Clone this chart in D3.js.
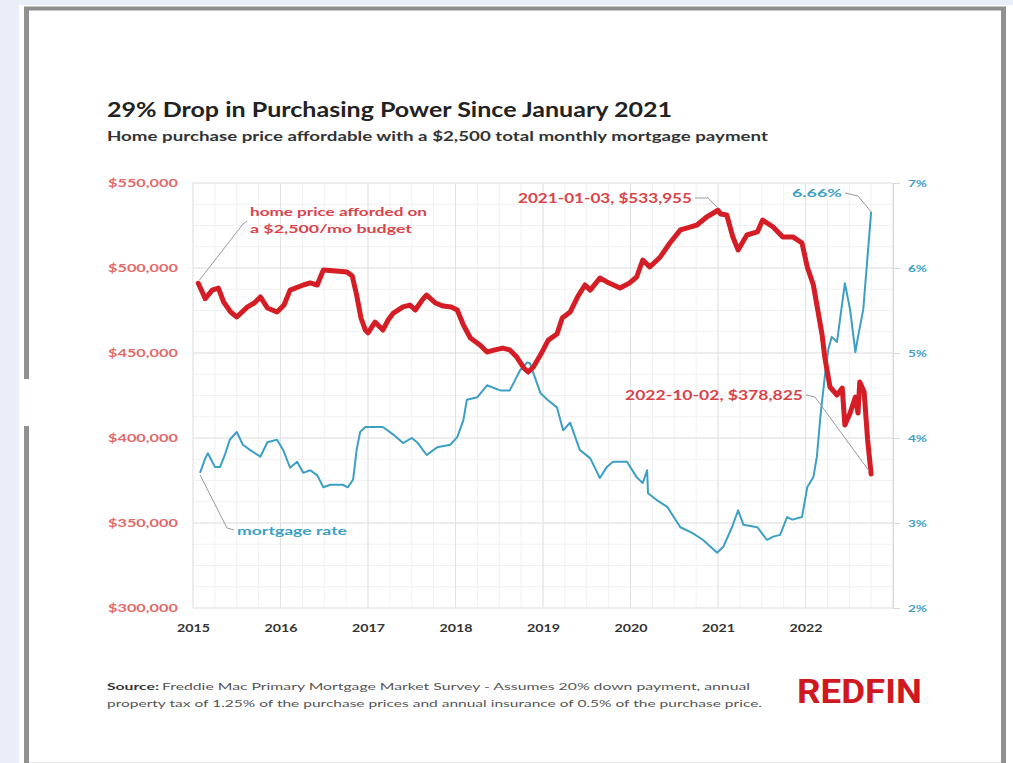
<!DOCTYPE html>
<html>
<head>
<meta charset="utf-8">
<script src="https://cdn.jsdelivr.net/npm/d3@7"></script>
<style>
  html, body { margin: 0; padding: 0; background: #e9eef8; }
  svg { display: block; }
</style>
</head>
<body>
<svg id="chart" width="1013" height="763"></svg>
<script>
// ---------- DATA ----------
const yearTicks = [2015, 2016, 2017, 2018, 2019, 2020, 2021, 2022];
const priceTicks = [300000, 350000, 400000, 450000, 500000, 550000];
const rateTicks = [2, 3, 4, 5, 6, 7];

// home price afforded on a $2,500/mo budget (decimal year, $)
const priceYears = [2015.06,2015.14,2015.22,2015.29,2015.35,2015.43,2015.50,2015.62,2015.70,2015.77,2015.85,2015.96,
  2016.04,2016.11,2016.26,2016.34,2016.42,2016.49,2016.63,2016.76,2016.82,2016.87,2016.92,2016.97,
  2017.00,2017.08,2017.17,2017.23,2017.29,2017.40,2017.48,2017.54,2017.62,2017.67,2017.77,2017.86,2017.95,
  2018.02,2018.09,2018.17,2018.28,2018.36,2018.45,2018.54,2018.62,2018.70,2018.78,2018.83,2018.89,2018.97,
  2019.06,2019.16,2019.22,2019.31,2019.40,2019.48,2019.54,2019.65,2019.73,2019.88,2019.99,
  2020.07,2020.14,2020.22,2020.34,2020.45,2020.57,2020.68,2020.76,2020.87,2021.00,
  2021.03,2021.10,2021.17,2021.23,2021.33,2021.45,2021.51,2021.63,2021.74,2021.86,2021.96,
  2022.02,2022.09,2022.14,2022.19,2022.22,2022.28,2022.36,2022.42,2022.45,2022.51,2022.57,2022.60,2022.62,2022.67,2022.71,2022.75];
const priceValues = [491000,482000,487000,488200,480000,474100,471200,477000,479400,483000,476500,474100,
  478200,487000,490000,491200,490000,498800,498200,497600,495300,484100,470600,463500,
  461800,468200,463500,469400,473500,477100,478200,475300,481200,484100,479400,477600,477100,
  475300,466500,458800,454700,450600,451800,452900,451800,447600,441200,438800,441800,448800,
  457600,461200,470600,474100,483500,490000,487000,494100,491800,488200,491200,
  494700,504700,500600,506500,514700,522400,524100,525300,530000,533955,
  531800,531200,518200,510600,519400,521200,528200,524100,518200,518200,514700,
  500600,490000,475300,460600,447600,430000,425300,429400,407600,414700,424100,414700,432900,427100,398800,378825];

// 30-year mortgage rate (decimal year, %)
const rateYears = [2015.08,2015.14,2015.17,2015.25,2015.31,2015.37,2015.42,2015.50,2015.57,2015.65,2015.77,2015.85,2015.96,
  2016.03,2016.11,2016.19,2016.26,2016.34,2016.42,2016.49,2016.57,2016.71,2016.77,2016.83,2016.87,2016.91,2016.97,
  2017.17,2017.29,2017.40,2017.50,2017.57,2017.67,2017.79,2017.94,
  2018.02,2018.09,2018.13,2018.25,2018.36,2018.51,2018.62,2018.74,2018.82,2018.85,2018.97,
  2019.05,2019.16,2019.23,2019.31,2019.42,2019.54,2019.65,2019.73,2019.80,2019.96,
  2020.07,2020.14,2020.19,2020.20,2020.30,2020.42,2020.57,2020.71,2020.83,2020.99,
  2021.06,2021.16,2021.23,2021.29,2021.45,2021.56,2021.63,2021.71,2021.79,2021.85,2021.96,
  2022.02,2022.09,2022.13,2022.17,2022.22,2022.26,2022.30,2022.36,2022.45,2022.51,2022.57,2022.60,2022.66,2022.75];
const rateValues = [3.59,3.76,3.82,3.66,3.66,3.82,3.98,4.07,3.92,3.86,3.78,3.95,3.98,
  3.86,3.65,3.72,3.59,3.62,3.56,3.42,3.45,3.45,3.42,3.51,3.86,4.07,4.13,
  4.13,4.04,3.94,4.00,3.94,3.80,3.89,3.92,
  4.01,4.21,4.45,4.48,4.62,4.56,4.56,4.80,4.89,4.88,4.53,
  4.45,4.36,4.09,4.18,3.86,3.76,3.53,3.66,3.72,3.72,
  3.54,3.47,3.62,3.35,3.27,3.19,2.95,2.88,2.80,2.65,
  2.72,2.95,3.15,2.98,2.95,2.80,2.84,2.86,3.07,3.04,3.07,
  3.42,3.54,3.78,4.25,4.72,5.04,5.19,5.13,5.82,5.51,5.01,5.19,5.51,6.66];

// ---------- DRAWING ----------
const svg = d3.select("#chart");
const RED = "#d41d24", TEAL = "#3d9fc4", RED_TXT = "#d9434a", RED_TICK = "#e06a6a";

// page background & frame
svg.append("rect").attr("x", 19).attr("y", 5).attr("width", 994).attr("height", 758).attr("fill", "#fff");
const frame = svg.append("g").attr("stroke", "#909090").attr("fill", "none");
frame.append("line").attr("x1", 24).attr("x2", 1006).attr("y1", 8.5).attr("y2", 8.5).attr("stroke-width", 4);
frame.append("line").attr("x1", 1003.5).attr("x2", 1003.5).attr("y1", 7).attr("y2", 763).attr("stroke-width", 5);
frame.append("line").attr("x1", 26.5).attr("x2", 26.5).attr("y1", 7).attr("y2", 379).attr("stroke-width", 5);
frame.append("line").attr("x1", 26.5).attr("x2", 26.5).attr("y1", 426).attr("y2", 763).attr("stroke-width", 5);
svg.append("line").attr("x1", 29).attr("x2", 1001).attr("y1", 762.5).attr("y2", 762.5).attr("stroke", "#e4e4e4");

const x = d3.scaleLinear().domain([2015, 2023]).range([193, 893]);
const yL = d3.scaleLinear().domain([300000, 550000]).range([608, 183]);
const yR = d3.scaleLinear().domain([2, 7]).range([608, 183]);

// grid: minor + major
const grid = svg.append("g");
const minorX = d3.range(2015, 2023.01, 0.25), minorY = d3.range(300000, 550001, 12500);
grid.selectAll(".mx").data(minorX).join("line")
  .attr("x1", d => x(d)).attr("x2", d => x(d)).attr("y1", yL(550000)).attr("y2", yL(300000))
  .attr("stroke", "#f1f1f1");
grid.selectAll(".my").data(minorY).join("line")
  .attr("x1", x(2015)).attr("x2", x(2023)).attr("y1", d => yL(d)).attr("y2", d => yL(d))
  .attr("stroke", "#f1f1f1");
grid.selectAll(".Mx").data(yearTicks.concat([2023])).join("line")
  .attr("x1", d => x(d)).attr("x2", d => x(d)).attr("y1", yL(550000)).attr("y2", yL(300000))
  .attr("stroke", "#e2e2e2");
grid.selectAll(".My").data(priceTicks).join("line")
  .attr("x1", x(2015)).attr("x2", x(2023)).attr("y1", d => yL(d)).attr("y2", d => yL(d))
  .attr("stroke", "#e2e2e2");

// axes
const fmtPrice = d => "$" + d3.format(",")(d);
const gL = svg.append("g").attr("transform", "translate(178,0)")
  .call(d3.axisLeft(yL).tickValues(priceTicks).tickFormat(fmtPrice).tickSize(0).tickPadding(0));
gL.select(".domain").remove();
gL.selectAll("text").attr("fill", RED_TICK).attr("font-family", "Lato, sans-serif")
  .attr("font-weight", "bold").attr("font-size", 11).attr("textLength", 70).attr("lengthAdjust", "spacingAndGlyphs");

const gR = svg.append("g").attr("transform", "translate(893,0)")
  .call(d3.axisRight(yR).tickValues(rateTicks).tickFormat(d => d + "%").tickSize(7).tickPadding(8));
gR.select(".domain").attr("stroke", "#dcdcdc");
gR.selectAll("line").attr("stroke", "#d8d8d8");
gR.selectAll("text").attr("fill", TEAL).attr("font-family", "Lato, sans-serif")
  .attr("font-weight", "bold").attr("font-size", 10).attr("textLength", 19).attr("lengthAdjust", "spacingAndGlyphs");

const gB = svg.append("g").attr("transform", "translate(0,608)")
  .call(d3.axisBottom(x).tickValues(yearTicks).tickFormat(d3.format("d")).tickSize(0).tickPadding(16));
gB.select(".domain").remove();
gB.selectAll("text").attr("fill", "#333").attr("font-family", "Lato, sans-serif")
  .attr("font-weight", "bold").attr("font-size", 11).attr("textLength", 33).attr("lengthAdjust", "spacingAndGlyphs");

// lines
const rateData = rateYears.map((t, i) => [t, rateValues[i]]);
const priceData = priceYears.map((t, i) => [t, priceValues[i]]);
svg.append("path").datum(rateData)
  .attr("d", d3.line().x(d => x(d[0])).y(d => yR(d[1])))
  .attr("fill", "none").attr("stroke", TEAL).attr("stroke-width", 2).attr("stroke-linejoin", "round");
svg.append("path").datum(priceData)
  .attr("d", d3.line().x(d => x(d[0])).y(d => yL(d[1])))
  .attr("fill", "none").attr("stroke", RED).attr("stroke-width", 5).attr("stroke-linejoin", "round").attr("stroke-linecap", "round");

// annotations
const ann = svg.append("g").attr("font-family", "Lato, sans-serif").attr("font-weight", "bold");
const conn = (pts) => svg.append("path").attr("d", d3.line()(pts)).attr("fill", "none").attr("stroke", "#9a9a9a").attr("stroke-width", 1);

const p0 = [x(priceYears[0]), yL(priceValues[0])];
conn([[p0[0] + 1, p0[1] - 3], [243, 224], [247, 221]]);
ann.append("text").attr("x", 250).attr("y", 216).attr("fill", RED_TXT).attr("font-size", 12)
  .attr("textLength", 177).attr("lengthAdjust", "spacingAndGlyphs").text("home price afforded on");
ann.append("text").attr("x", 250).attr("y", 233).attr("fill", RED_TXT).attr("font-size", 12)
  .attr("textLength", 162).attr("lengthAdjust", "spacingAndGlyphs").text("a $2,500/mo budget");

const r0 = [x(rateYears[0]), yR(rateValues[0])];
conn([[r0[0], r0[1] + 2], [227, 528], [234, 530]]);
ann.append("text").attr("x", 237).attr("y", 535).attr("fill", TEAL).attr("font-size", 12)
  .attr("textLength", 110).attr("lengthAdjust", "spacingAndGlyphs").text("mortgage rate");

const pk = [x(2021.00), yL(533955)];
conn([[695, 198], [708, 198], [pk[0], pk[1] - 2]]);
ann.append("text").attr("x", 518).attr("y", 203).attr("fill", RED_TXT).attr("font-size", 13)
  .attr("textLength", 174).attr("lengthAdjust", "spacingAndGlyphs").text("2021-01-03, $533,955");

const rEnd = [x(rateYears[rateYears.length - 1]), yR(rateValues[rateValues.length - 1])];
conn([[845, 193], [858, 196], [rEnd[0], rEnd[1]]]);
ann.append("text").attr("x", 792).attr("y", 197).attr("fill", TEAL).attr("font-size", 12)
  .attr("textLength", 50).attr("lengthAdjust", "spacingAndGlyphs").text("6.66%");

const pEnd = [x(priceYears[priceYears.length - 1]), yL(priceValues[priceValues.length - 1])];
conn([[806, 395], [815, 397], [pEnd[0] - 2, pEnd[1] - 3]]);
ann.append("text").attr("x", 625).attr("y", 400).attr("fill", RED_TXT).attr("font-size", 13)
  .attr("textLength", 178).attr("lengthAdjust", "spacingAndGlyphs").text("2022-10-02, $378,825");

// titles
const t = svg.append("g").attr("font-family", "Lato, sans-serif");
t.append("text").attr("x", 107).attr("y", 117).attr("font-size", 20).attr("font-weight", "bold").attr("fill", "#222")
  .attr("textLength", 565).attr("lengthAdjust", "spacingAndGlyphs").text("29% Drop in Purchasing Power Since January 2021");
t.append("text").attr("x", 107).attr("y", 141).attr("font-size", 13).attr("font-weight", "bold").attr("fill", "#333")
  .attr("textLength", 661).attr("lengthAdjust", "spacingAndGlyphs").text("Home purchase price affordable with a $2,500 total monthly mortgage payment");

// footer
t.append("text").attr("x", 107).attr("y", 690).attr("font-size", 10).attr("font-weight", "bold").attr("fill", "#333")
  .attr("textLength", 52).attr("lengthAdjust", "spacingAndGlyphs").text("Source:");
t.append("text").attr("x", 162).attr("y", 690).attr("font-size", 10).attr("fill", "#555")
  .attr("textLength", 588).attr("lengthAdjust", "spacingAndGlyphs")
  .text("Freddie Mac Primary Mortgage Market Survey - Assumes 20% down payment, annual");
t.append("text").attr("x", 107).attr("y", 707).attr("font-size", 10).attr("fill", "#555")
  .attr("textLength", 655).attr("lengthAdjust", "spacingAndGlyphs")
  .text("property tax of 1.25% of the purchase prices and annual insurance of 0.5% of the purchase price.");
t.append("text").attr("x", 797).attr("y", 703).attr("font-size", 34).attr("font-weight", "bold").attr("fill", "#d0191f")
  .attr("font-family", "'Liberation Sans Narrow', 'Roboto', sans-serif")
  .attr("textLength", 125).attr("lengthAdjust", "spacingAndGlyphs").text("REDFIN");
</script>
</body>
</html>
